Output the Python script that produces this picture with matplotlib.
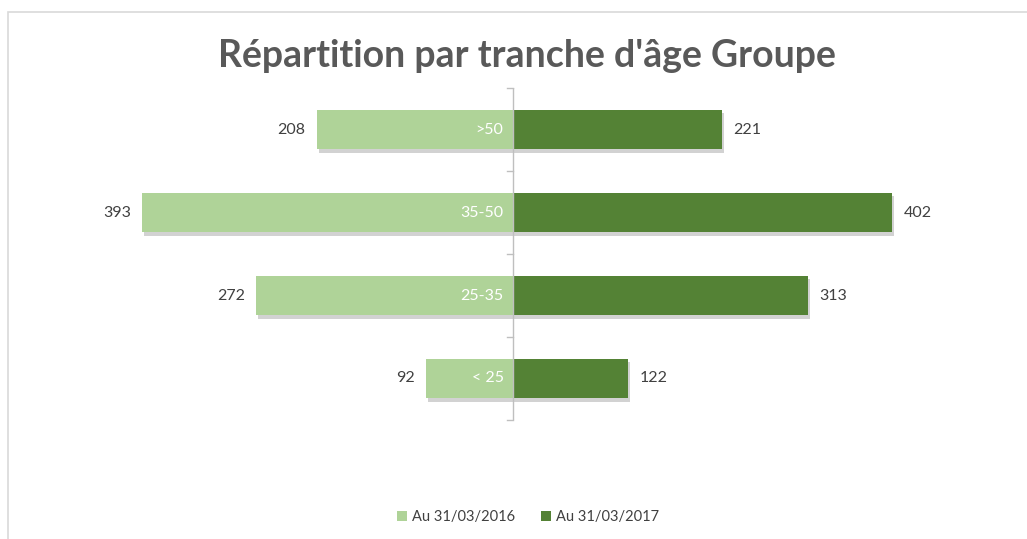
import matplotlib.pyplot as plt
import matplotlib.patheffects as pe
from matplotlib.patches import Rectangle
import numpy as np

plt.rcParams['font.family'] = ['Lato', 'DejaVu Sans']

# data
categories = ['< 25', '25-35', '35-50', '>50']
val_2016 = [92, 272, 393, 208]
val_2017 = [122, 313, 402, 221]
series_names = ['Au 31/03/2016', 'Au 31/03/2017']

light = '#afd398'
dark = '#548235'
text_col = '#404040'

fig = plt.figure(figsize=(10.27, 5.39), dpi=100)
W, H = 1027, 539

# outer chart border (only top and left visible)
fig.patches.append(Rectangle((8 / W, -0.2), 1.2, 1.2 - 12 / H, transform=fig.transFigure,
                             fill=False, edgecolor='#d9d9d9', linewidth=1.2))

ax = fig.add_axes([60 / W, 1 - 420 / H, 906 / W, 332 / H])
y = np.arange(len(categories))
shadow = [pe.SimplePatchShadow(offset=(1.5, -2.5), alpha=0.35, shadow_rgbFace='#808080'), pe.Normal()]

b1 = ax.barh(y, [-v for v in val_2016], height=0.48, color=light, label=series_names[0],
             path_effects=shadow, zorder=2)
b2 = ax.barh(y, val_2017, height=0.48, color=dark, label=series_names[1],
             path_effects=shadow, zorder=2)

ax.set_xlim(-480, 480)
ax.set_ylim(-0.5, len(categories) - 0.5)

for i, (a, b) in enumerate(zip(val_2016, val_2017)):
    ax.text(-a - 12, i, str(a), ha='right', va='center', fontsize=11.5, color=text_col)
    ax.text(b + 12, i, str(b), ha='left', va='center', fontsize=11.5, color=text_col)
    ax.text(-10, i, categories[i], ha='right', va='center', fontsize=11.5, color='white', zorder=3)

for s in ['top', 'right', 'bottom', 'left']:
    ax.spines[s].set_visible(False)
ax.axvline(0, color='#bfbfbf', linewidth=1, zorder=4)
ax.set_xticks([])
ax.set_yticks([])
# small ticks at category boundaries
for yb in np.arange(-0.5, len(categories), 1.0):
    ax.plot([-6, 0], [yb, yb], color='#bfbfbf', linewidth=1, zorder=4, clip_on=False)

fig.text(0.513, 1 - 56 / H, "Répartition par tranche d'âge Groupe", ha='center', va='center',
         fontsize=27, fontweight='bold', color='#595959')

leg = fig.legend(handles=[b1, b2], loc='center', bbox_to_anchor=(528 / W, 1 - 517 / H), ncol=2,
                 frameon=False, fontsize=10.5, handlelength=0.7, handleheight=0.7,
                 handletextpad=0.3, columnspacing=1.8, labelcolor=text_col)
for h in leg.legend_handles:
    h.set_path_effects([])

fig.savefig('out.png', dpi=100)
